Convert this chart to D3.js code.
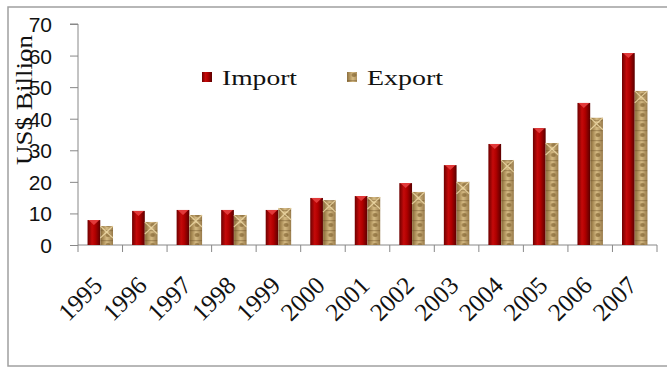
<!DOCTYPE html>
<html><head><meta charset="utf-8">
<script src="https://cdn.jsdelivr.net/npm/d3@7"></script>
<style>body{margin:0;background:#fff}svg{display:block}</style>
</head><body>
<script>
const years = ["1995","1996","1997","1998","1999","2000","2001","2002","2003","2004","2005","2006","2007"];
const importVals = [7.9,10.8,11.1,11.1,11.1,14.9,15.5,19.6,25.3,32.0,37.0,45.0,60.8];
const exportVals = [6.0,7.3,9.5,9.5,11.7,14.2,15.2,16.8,20.0,26.9,32.3,40.3,48.8];
const seriesNames = ["Import","Export"];
const yTicks = [0,10,20,30,40,50,60,70];

const W=667,H=367;
const svg=d3.select("body").append("svg").attr("width",W).attr("height",H);
const defs=svg.append("defs");
const gi=defs.append("linearGradient").attr("id","gImp");
[["0%","#6e0000"],["35%","#c40a0a"],["60%","#b00000"],["100%","#5a0000"]].forEach(s=>gi.append("stop").attr("offset",s[0]).attr("stop-color",s[1]));
const ge=defs.append("linearGradient").attr("id","gExp");
[["0%","#9c7e48"],["40%","#d6bb84"],["100%","#8e7040"]].forEach(s=>ge.append("stop").attr("offset",s[0]).attr("stop-color",s[1]));
const pat=defs.append("pattern").attr("id","pExp").attr("patternUnits","userSpaceOnUse").attr("width",12).attr("height",10);
pat.append("rect").attr("width",12).attr("height",10).attr("fill","url(#gExp)");
pat.append("ellipse").attr("cx",6).attr("cy",5).attr("rx",2.5).attr("ry",2).attr("fill","#7a5c2c").attr("opacity",0.6);
pat.append("rect").attr("x",0).attr("y",0).attr("width",12).attr("height",1.2).attr("fill","#6d5228").attr("opacity",0.4);

// frame
svg.append("rect").attr("x",8).attr("y",7).attr("width",W).attr("height",359).attr("fill","#fff").attr("stroke","#a0a0a0").attr("stroke-width",1.5);

const x=d3.scaleBand().domain(years).range([78,657]);
const x1=d3.scaleBand().domain(seriesNames).range([0,x.bandwidth()]).paddingOuter(0.75).paddingInner(0);
const y=d3.scaleLinear().domain([0,70]).range([245,24]);

// axes
const ya=d3.axisLeft(y).tickValues(yTicks).tickSize(8).tickPadding(18);
const gy=svg.append("g").attr("transform","translate(78,0)").call(ya);
gy.select(".domain").attr("stroke","#888").attr("d","M-8,24H0V245");
gy.selectAll(".tick line").attr("stroke","#888");
gy.selectAll(".tick text").attr("font-family","Liberation Sans, Arial, sans-serif").attr("font-size",21).attr("fill","#111").attr("dy","0.36em");

const gx=svg.append("g").attr("transform","translate(0,245)");
gx.append("line").attr("x1",78).attr("x2",657).attr("stroke","#888");
const bounds=years.map(d=>x(d)).concat([x(years[years.length-1])+x.bandwidth()]);
gx.selectAll("line.t").data(bounds).join("line").attr("class","t").attr("x1",d=>d).attr("x2",d=>d).attr("y1",0).attr("y2",7).attr("stroke","#888");
gx.selectAll("text").data(years).join("text")
 .attr("transform",d=>`translate(${x(d)+x.bandwidth()/2+3.5},${42}) rotate(-45)`)
 .attr("text-anchor","end").attr("font-family","Liberation Serif, Times New Roman, serif").attr("font-size",25).attr("fill","#111").text(d=>d);

// bars
const data=years.map((yr,i)=>({yr,Import:importVals[i],Export:exportVals[i]}));
const groups=svg.append("g").selectAll("g").data(data).join("g").attr("transform",d=>`translate(${x(d.yr)},0)`);
groups.append("rect").attr("x",x1("Import")).attr("width",x1.bandwidth()).attr("y",d=>y(d.Import)).attr("height",d=>y(0)-y(d.Import)).attr("fill","url(#gImp)");
groups.append("path").attr("d",d=>{const a=x1("Import"),w=x1.bandwidth(),t=y(d.Import);return `M${a+1},${t}H${a+w-1}L${a+w/2},${t+5}Z`;}).attr("fill","#e23a3a");
groups.append("rect").attr("x",x1("Export")).attr("width",x1.bandwidth()).attr("y",d=>y(d.Export)).attr("height",d=>y(0)-y(d.Export)).attr("fill","url(#pExp)");
groups.append("path").attr("d",d=>{const a=x1("Export"),w=x1.bandwidth(),t=y(d.Export);return `M${a},${t}L${a+w/2},${t+6}L${a+w},${t}M${a},${t+12}L${a+w/2},${t+6}L${a+w},${t+12}`;}).attr("fill","none").attr("stroke","#f0dcaa").attr("stroke-width",1.2).attr("opacity",0.8);

// y label
svg.append("text").attr("transform","translate(32,100) rotate(-90)").attr("text-anchor","middle")
 .attr("font-family","Liberation Serif, Times New Roman, serif").attr("font-size",24).attr("fill","#111")
 .attr("textLength",130).attr("lengthAdjust","spacingAndGlyphs").text("US$ Billion");

// legend
const leg=[{n:"Import",sx:202,tx:222,fill:"url(#gImp)"},{n:"Export",sx:347,tx:367,fill:"url(#pExp)"}];
leg.forEach(l=>{
 svg.append("rect").attr("x",l.sx).attr("y",72).attr("width",10).attr("height",10).attr("fill",l.fill);
 svg.append("text").attr("x",l.tx).attr("y",85).attr("font-family","Liberation Serif, Times New Roman, serif").attr("font-size",22).attr("fill","#111")
  .attr("textLength",l.n==="Import"?75:76).attr("lengthAdjust","spacingAndGlyphs").text(l.n);
});
</script>
</body></html>
